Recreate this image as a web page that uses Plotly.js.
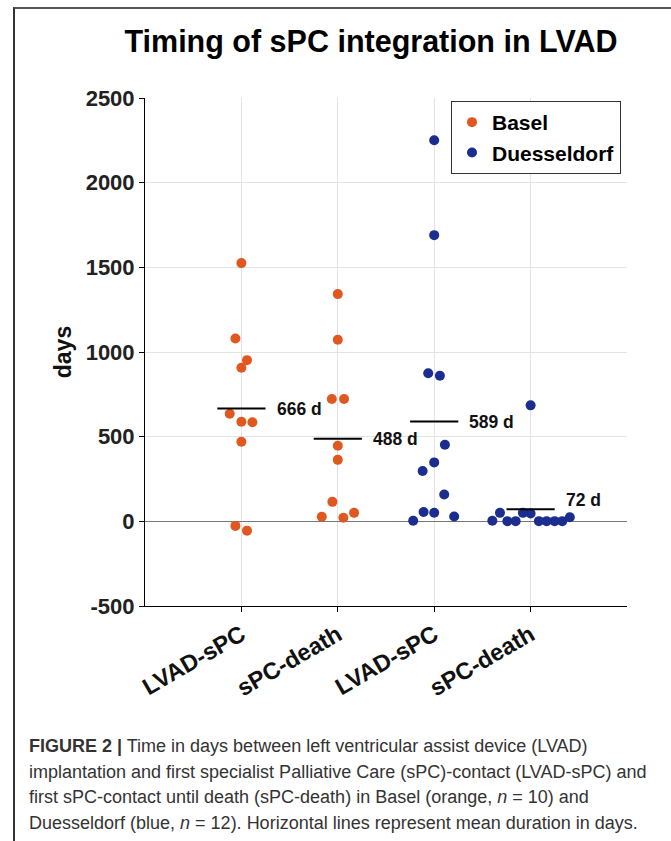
<!DOCTYPE html>
<html>
<head>
<meta charset="utf-8">
<script src="https://cdn.plot.ly/plotly-3.0.1.min.js"></script>
<style>
  html, body { margin: 0; padding: 0; background: #fff; }
  #wrap { position: relative; width: 671px; height: 841px; overflow: hidden; }
  #chart { position: absolute; left: 0; top: 0; width: 671px; height: 841px; }
  #frame { position: absolute; left: 13px; top: 7px; width: 700px; height: 900px;
           border-left: 2px solid #333; border-top: 2px solid #555; pointer-events: none; z-index: 5; }
</style>
</head>
<body>
<div id="wrap">
  <div id="chart"></div>
  <div id="frame"></div>
</div>
<script>
// ---- data (days) ----
const categories = ['LVAD-sPC', 'sPC-death', 'LVAD-sPC', 'sPC-death'];
const seriesNames = ['Basel', 'Duesseldorf'];

const baselLvadSpc = [1525, 1080, 952, 907, 635, 588, 585, 470, -27, -55];
const baselLvadSpcJitter = [0, -0.062, 0.058, 0, -0.121, 0, 0.114, 0, -0.062, 0.058];

const baselSpcDeath = [1342, 1072, 722, 722, 446, 363, 115, 27, 21, 50];
const baselSpcDeathJitter = [0, 0, -0.062, 0.065, 0, 0, -0.056, -0.166, 0.058, 0.169];

const duessLvadSpc = [2250, 1690, 875, 860, 452, 348, 297, 158, 55, 51, 3, 29];
const duessLvadSpcJitter = [0, 0, -0.062, 0.059, 0.111, 0, -0.120, 0.104, -0.110, 0, -0.218, 0.207];

const duessSpcDeath = [685, 3, 50, 1, 1, 50, 46, 1, 1, 1, 1, 24];
const duessSpcDeathJitter = [0, -0.397, -0.318, -0.241, -0.155, -0.080, 0, 0.086, 0.166, 0.249, 0.328, 0.407];

const meanDays = [666, 488, 589, 72];

const yTickVals = [-500, 0, 500, 1000, 1500, 2000, 2500];
const yTickText = ['-500', '0', '500', '1000', '1500', '2000', '2500'];

const captionLines = [
  '<b>FIGURE 2 |</b> Time in days between left ventricular assist device (LVAD)',
  'implantation and first specialist Palliative Care (sPC)-contact (LVAD-sPC) and',
  'first sPC-contact until death (sPC-death) in Basel (orange, <i>n</i> = 10) and',
  'Duesseldorf (blue, <i>n</i> = 12). Horizontal lines represent mean duration in days.'
];

// ---- build ----
const orange = '#E0581F';
const blue = '#1B2D8E';
const FONT = 'Liberation Sans, Arial, Helvetica, sans-serif';

function xs(pos, jit) { return jit.map(j => pos + j); }

const basel = {
  type: 'scatter', mode: 'markers', name: seriesNames[0],
  x: xs(1, baselLvadSpcJitter).concat(xs(2, baselSpcDeathJitter)),
  y: baselLvadSpc.concat(baselSpcDeath),
  marker: { color: orange, size: 10 },
  hoverinfo: 'y'
};
const duess = {
  type: 'scatter', mode: 'markers', name: seriesNames[1],
  x: xs(3, duessLvadSpcJitter).concat(xs(4, duessSpcDeathJitter)),
  y: duessLvadSpc.concat(duessSpcDeath),
  marker: { color: blue, size: 10 },
  hoverinfo: 'y'
};

const mx = [], my = [];
meanDays.forEach((m, i) => {
  mx.push(i + 1 - 0.25, i + 1 + 0.25, null);
  my.push(m, m, null);
});
const means = {
  type: 'scatter', mode: 'lines', x: mx, y: my, showlegend: false,
  line: { color: '#000', width: 2 }, hoverinfo: 'skip'
};

const L = 145, R = 44, T = 98, B = 235, H = 841;
const plotH = H - T - B, plotW = 671 - L - R;
function py(pix) { return (H - B - pix) / plotH; }
function px(pix) { return (pix - L) / plotW; }

const annotations = meanDays.map((m, i) => ({
  x: i + 1 + 0.25, y: m, xref: 'x', yref: 'y',
  text: m + ' d', showarrow: false, xanchor: 'left', yanchor: 'middle',
  xshift: 9, yshift: i === 3 ? 9 : 0,
  font: { family: FONT, size: 17.5, color: '#111', weight: 'bold' }
}));

const captionTop = [746, 772, 797, 823];
captionLines.forEach((t, i) => {
  annotations.push({
    x: px(27), y: py(captionTop[i]), xref: 'paper', yref: 'paper',
    text: t, showarrow: false, xanchor: 'left', yanchor: 'middle', align: 'left',
    font: { family: FONT, size: 18, color: '#333' }
  });
});

const layout = {
  width: 671, height: 841,
  margin: { l: L, r: R, t: T, b: B, pad: 0 },
  paper_bgcolor: '#fff', plot_bgcolor: '#fff',
  showlegend: true,
  title: {
    text: 'Timing of sPC integration in LVAD',
    font: { family: FONT, size: 30.5, color: '#000', weight: 'bold' },
    x: 371 / 671, xref: 'container', xanchor: 'center',
    y: 1 - 41 / 841, yref: 'container', yanchor: 'middle'
  },
  xaxis: {
    range: [0, 5], tickvals: [1, 2, 3, 4], ticktext: categories,
    tickangle: -30, ticks: 'outside', ticklen: 5, tickcolor: '#000',
    showgrid: true, gridcolor: '#e3e3e3', gridwidth: 1,
    showline: true, linecolor: '#000', linewidth: 1, zeroline: false,
    tickfont: { family: FONT, size: 23.5, color: '#111', weight: 'bold' },
    fixedrange: true
  },
  yaxis: {
    range: [-500, 2500], tickvals: yTickVals, ticktext: yTickText,
    ticks: 'outside', ticklen: 5, tickcolor: '#000',
    showgrid: true, gridcolor: '#e3e3e3', gridwidth: 1,
    showline: true, linecolor: '#000', linewidth: 1,
    zeroline: true, zerolinecolor: '#777', zerolinewidth: 1.5,
    tickfont: { family: FONT, size: 22, color: '#222', weight: 'bold' },
    title: { text: 'days', font: { family: FONT, size: 23, color: '#111', weight: 'bold' }, standoff: 7 },
    fixedrange: true
  },
  legend: {
    x: px(621), y: py(101), xanchor: 'right', yanchor: 'top',
    bgcolor: '#fff', bordercolor: '#333', borderwidth: 1,
    font: { family: FONT, size: 21, color: '#000', weight: 'bold' },
    tracegroupgap: 0, itemwidth: 30
  },
  annotations: annotations
};

Plotly.newPlot('chart', [basel, duess, means], layout, { displayModeBar: false, staticPlot: true });
</script>
</body>
</html>
